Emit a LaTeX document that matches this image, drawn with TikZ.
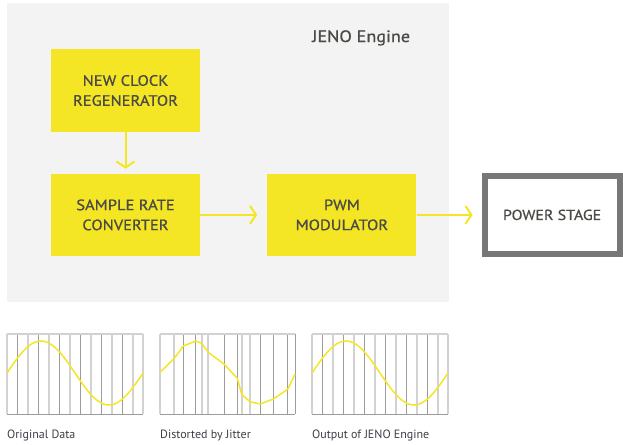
\documentclass[tikz,border=0pt]{standalone}
\usepackage{fontspec}
\setmainfont{PT Sans}
\newfontfamily\dinfont{PT Sans}[FakeStretch=1.1]
\newfontfamily\dinmedium{PT Sans}[FakeStretch=1.1,FakeBold=0.8]
\usepackage{xcolor}
\usepackage{tikz}
\usetikzlibrary{arrows.meta,positioning}

\definecolor{jenoyellow}{HTML}{F5E625}
\definecolor{panelgray}{HTML}{F3F3F3}
\definecolor{textgray}{HTML}{4A4A46}
\definecolor{labelgray}{HTML}{3C3F46}
\definecolor{framegray}{HTML}{777777}
\definecolor{gridlight}{HTML}{D2D2D2}
\definecolor{griddark}{HTML}{9C9C9C}

\begin{document}
\begin{tikzpicture}[x=1pt,y=-1pt,>={Straight Barb[length=6pt,width=18pt]},
 node distance=42pt and 67pt,
 block/.style={fill=jenoyellow,text=textgray,align=center,inner sep=0pt,
   minimum width=149pt,minimum height=82pt,font=\dinmedium\fontsize{15}{20}\selectfont},
 stage/.style={draw=framegray,line width=6pt,text=textgray,inner sep=0pt,
   minimum width=135pt,minimum height=78pt,font=\dinmedium\fontsize{14.5}{20}\selectfont},
 flow/.style={draw=jenoyellow,line width=2pt},
 caption/.style={anchor=base west,inner sep=0pt,text=labelgray,font=\fontsize{12}{14}\selectfont},
 light/.style={draw=gridlight,line width=2pt},
 dark/.style={draw=griddark,line width=1pt},
 wave/.style={draw=jenoyellow,line width=1.5pt,line join=round}]
 \useasboundingbox (0,0) rectangle (623,444);

 % engine panel
 \fill[panelgray] (7,3) rectangle (449,302);
 \node[anchor=base west,inner sep=0pt,text=textgray,font=\dinmedium\fontsize{16.5}{20}\selectfont] (engine) at (312,42) {JENO Engine};

 \node[block] (clock) at (125.5,90.5) {NEW CLOCK\\REGENERATOR};
 \node[block] (src) [below=of clock] {SAMPLE RATE\\CONVERTER};
 \node[block] (pwm) [right=of src] {PWM\\MODULATOR};
 \node[stage] (power) [right=65pt of pwm] {POWER STAGE};

 \path[->] (clock) edge [flow,shorten >=5pt] (src)
 (src) edge [flow,shorten >=10pt] (pwm)
 (pwm) edge [flow,shorten >=9pt] (power);

 % original data
 \begin{scope}[shift={(7,334)}]
  \foreach \i in {0,...,13} {
   \pgfmathsetmacro{\xx}{\i*136/13}
   \ifodd\i \ifnum\i<13 \draw[dark] (\xx,0) -- (\xx,80); \else \draw[light] (\xx,0) -- (\xx,80); \fi
   \else \draw[light] (\xx,0) -- (\xx,80); \fi
  }
  \draw[light] (0,0) -- (136,0);
  \draw[dark] (0,80) -- (136,80);
  \draw[wave] plot[domain=0:136,samples=80,smooth] (\x,{39-32*sin(\x/136*360)});
 \end{scope}
 \node[caption] (orig) at (7,438) {Original Data};

 % distorted by jitter
 \foreach \xx in {159.7,174.3,201.7,207.7,241.7,250}
  \draw[light] (\xx,334) -- (\xx,414);
 \foreach \xx in {183.3,195.7,224.3,237.3,260.3,273.3,287.7,295}
  \draw[dark] (\xx,334) -- (\xx,414);
 \draw[light] (160,334) -- (295,334);
 \draw[dark] (160,414) -- (295,414);
 \draw[wave] (159.7,372.7) -- (174.3,358.3) -- (183.3,346) -- (195.7,341)
  -- (201.7,343.3) -- (208.3,352.3) -- (224.3,364.3) -- (237.3,378.3)
  -- (241.7,394.3) -- (250,401.7) -- (260.3,404) -- (273.3,399)
  -- (287.7,389.3) -- (295,374.3);
 \node[caption] (jitter) at (160,438) {Distorted by Jitter};

 % output of the engine
 \begin{scope}[shift={(312,334)}]
  \foreach \i in {0,...,13} {
   \pgfmathsetmacro{\xx}{\i*136/13}
   \ifodd\i \ifnum\i<13 \draw[dark] (\xx,0) -- (\xx,80); \else \draw[light] (\xx,0) -- (\xx,80); \fi
   \else \draw[light] (\xx,0) -- (\xx,80); \fi
  }
  \draw[light] (0,0) -- (136,0);
  \draw[dark] (0,80) -- (136,80);
  \draw[wave] plot[domain=0:136,samples=80,smooth] (\x,{39-32*sin(\x/136*360)});
 \end{scope}
 \node[caption] (output) at (312,438) {Output of JENO Engine};
\end{tikzpicture}
\end{document}
